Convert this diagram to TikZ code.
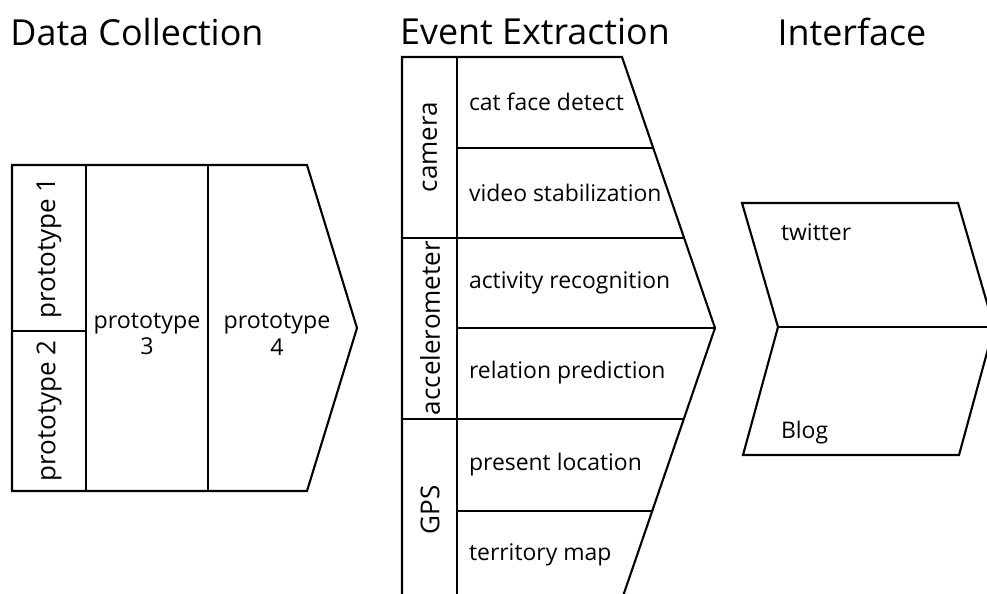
\documentclass[tikz,border=0pt]{standalone}
\usepackage{fontspec}
\setmainfont{Open Sans}
\begin{document}
\begin{tikzpicture}[x=0.025cm,y=-0.025cm,line width=1.5pt,
    title/.style={font=\fontsize{25.5}{30}\selectfont},
    lbl/.style={font=\fontsize{16.3}{19}\selectfont,inner sep=0pt,anchor=west},
    side/.style={font=\fontsize{18.5}{22}\selectfont,inner sep=0pt,rotate=90},
    mid/.style={font=\fontsize{16.5}{19}\selectfont,inner sep=0pt,align=center}]
  \clip (0,0) rectangle (987,593);
  % titles
  \node[title] (tdata) at (137,32) {Data Collection};
  \node[title] (tevent) at (535,32) {Event Extraction};
  \node[title] (tiface) at (852,32) {Interface};
  % data collection
  \draw (12,165) -- (307,165) -- (357,328) -- (307,491) -- (12,491) -- cycle;
  \draw (86,165) -- (86,491);
  \draw (208,165) -- (208,491);
  \draw (12,331) -- (86,331);
  \node[side] (p1) at (49,248) {prototype 1};
  \node[side] (p2) at (49,411) {prototype 2};
  \node[mid] (p3) at (147,334) {prototype\\3};
  \node[mid] (p4) at (277,334) {prototype\\4};
  % event extraction
  \draw (402,602) -- (402,57) -- (622,57) -- (715,328) -- (621,602);
  \draw (457,57) -- (457,602);
  \begin{scope}
    \draw (457,148) -- (653,148);
    \draw (402,238) -- (684,238);
    \draw (457,328) -- (715,328);
    \draw (402,419) -- (684,419);
    \draw (457,511) -- (653,511);
  \end{scope}
  \node[side] (cam) at (430,147) {camera};
  \node[side] (acc) at (430,328) {accelerometer};
  \node[side] (gps) at (430,510) {GPS};
  \node[lbl] (face) at (468,102) {cat face detect};
  \node[lbl] (video) at (468,193) {video stabilization};
  \node[lbl] (activ) at (468,283) {activity recognition};
  \node[lbl] (relat) at (468,373) {relation prediction};
  \node[lbl] (locat) at (468,465) {present location};
  \node[lbl] (terri) at (468,555) {territory map};
  % interface
  \draw (742,203) -- (958,203) -- (994,327) -- (959,455) -- (743,455) -- (778,327) -- cycle;
  \draw (778,327) -- (994,327);
  \node[lbl] (twit) at (780,232) {twitter};
  \node[lbl] (blog) at (780,433) {Blog};
\end{tikzpicture}
\end{document}
